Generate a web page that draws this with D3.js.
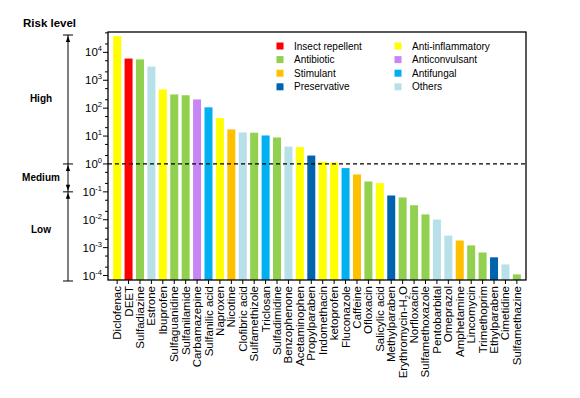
<!DOCTYPE html>
<html><head><meta charset="utf-8">
<script src="https://cdn.jsdelivr.net/npm/d3@7"></script>
<style>body{margin:0;background:#fff}svg{display:block;font-family:Arial,"Liberation Sans",sans-serif}</style>
</head><body><svg id="c" width="580" height="398"></svg>
<script>
const drugs = ["Diclofenac","DEET","Sulfadiazine","Estrone","Ibuprofen","Sulfaguanidine","Sulfanilamide","Carbamazepine","Sulfanilic acid","Naproxen","Nicotine","Clofibric acid","Sulfamethizole","Triclosan","Sulfadimidine","Benzophenone","Acetaminophen","Propylparaben","Indomethacin","ketoprofen","Fluconazole","Caffeine","Ofloxacin","Salicylic acid","Methylparaben","Erythromycin-H2O","Norfloxacin","Sulfamethoxazole","Pentobarbital","Omeprazol","Amphetamine","Lincomycin","Trimethoprim","Ethylparaben","Cimetidine","Sulfamethazine"];
const riskValues = [38000,6000,5600,3100,470,310,290,205,107,44,17.3,13.5,13.2,10.5,8.9,4.2,4.0,2.0,1.2,1.13,0.71,0.42,0.235,0.205,0.074,0.063,0.033,0.0155,0.0102,0.0027,0.0018,0.0012,0.00067,0.00045,0.00025,0.00011];
const drugClass = ["Anti-inflammatory","Insect repellent","Antibiotic","Others","Anti-inflammatory","Antibiotic","Antibiotic","Anticonvulsant","Antifungal","Anti-inflammatory","Stimulant","Others","Antibiotic","Antifungal","Antibiotic","Others","Anti-inflammatory","Preservative","Anti-inflammatory","Anti-inflammatory","Antifungal","Stimulant","Antibiotic","Anti-inflammatory","Preservative","Antibiotic","Antibiotic","Antibiotic","Others","Others","Stimulant","Antibiotic","Antibiotic","Preservative","Others","Antibiotic"];
const classNames = ["Insect repellent","Antibiotic","Stimulant","Preservative","Anti-inflammatory","Anticonvulsant","Antifungal","Others"];
const classColors = ["#ff0000","#92d050","#ffc000","#0063ae","#ffff00","#c785f5","#00b0f0","#b7e0e8"];
const yTickExps = [4,3,2,1,0,-1,-2,-3,-4];
const riskLevels = ["High","Medium","Low"];

const svg = d3.select("#c");
const L=108,R=526,T=32,B=280;
const x = d3.scaleBand().domain(drugs).range([L,R]).paddingInner(0.3).paddingOuter(0.45);
const y = d3.scaleLog().domain([Math.pow(10,-4.16),Math.pow(10,4.73)]).range([B,T]);
const color = d3.scaleOrdinal().domain(classNames).range(classColors);

svg.append("rect").attr("width",580).attr("height",398).attr("fill","#fff");

// bars
svg.append("g").selectAll("rect").data(drugs).join("rect")
  .attr("x",d=>x(d)).attr("width",x.bandwidth())
  .attr("y",(d,i)=>y(riskValues[i])).attr("height",(d,i)=>B-y(riskValues[i]))
  .attr("fill",(d,i)=>color(drugClass[i]));

// dashed line at 1
svg.append("line").attr("x1",L).attr("x2",R).attr("y1",y(1)).attr("y2",y(1))
  .attr("stroke","#000").attr("stroke-width",1.2).attr("stroke-dasharray","4,3");

// frame
svg.append("rect").attr("x",L).attr("y",T).attr("width",R-L).attr("height",B-T)
  .attr("fill","none").attr("stroke","#000").attr("stroke-width",1.3);

// y axis ticks
const minor=[];
for(let e=-5;e<=4;e++){[2,5].forEach(m=>{const v=m*Math.pow(10,e); if(v>y.domain()[0]&&v<y.domain()[1]) minor.push(v);});}
const yg = svg.append("g");
yg.selectAll("line.mj").data(yTickExps).join("line").attr("class","mj")
  .attr("x1",L-5).attr("x2",L).attr("y1",d=>y(Math.pow(10,d))).attr("y2",d=>y(Math.pow(10,d)))
  .attr("stroke","#000").attr("stroke-width",1);
yg.selectAll("line.mn").data(minor).join("line").attr("class","mn")
  .attr("x1",L-3).attr("x2",L).attr("y1",d=>y(d)).attr("y2",d=>y(d))
  .attr("stroke","#000").attr("stroke-width",1);
const yl = yg.selectAll("text").data(yTickExps).join("text")
  .attr("x",L-6).attr("y",d=>y(Math.pow(10,d))+4).attr("text-anchor","end")
  .attr("font-size",11.5).attr("fill","#000");
yl.append("tspan").text("10");
yl.append("tspan").attr("dy",-5).attr("font-size",7.5).text(d=>String(d));

// x ticks & labels
const xg = svg.append("g");
xg.selectAll("line").data(drugs).join("line")
  .attr("x1",d=>x(d)+x.bandwidth()/2).attr("x2",d=>x(d)+x.bandwidth()/2)
  .attr("y1",B).attr("y2",B+4).attr("stroke","#000").attr("stroke-width",1);
const xt = xg.selectAll("text").data(drugs).join("text")
  .attr("transform",d=>`translate(${x(d)+x.bandwidth()/2+4},${B+6}) rotate(-90)`)
  .attr("text-anchor","end").attr("font-size",11.5).attr("fill","#000");
xt.each(function(d){
  const t=d3.select(this);
  if(d==="Erythromycin-H2O"){
    t.append("tspan").text("Erythromycin-H");
    t.append("tspan").attr("font-size",7.5).attr("dy",3).text("2");
    t.append("tspan").attr("dy",-3).text("O");
  } else t.text(d);
});

// legend
const lg = svg.append("g").attr("font-size",10).attr("fill","#000");
classNames.forEach((c,i)=>{
  const col=Math.floor(i/4), row=i%4;
  const lx = col===0?280:398, ly = 46+row*13.6;
  lg.append("rect").attr("x",lx-3.5).attr("y",ly-3.5).attr("width",7).attr("height",7).attr("fill",color(c));
  lg.append("text").attr("x",lx+14).attr("y",ly+3.5).text(c);
});

// risk level annotation
const ax=68;
const ann = svg.append("g").attr("stroke","#000").attr("stroke-width",1);
svg.append("text").attr("x",23).attr("y",27).attr("font-size",11.5).attr("font-weight","bold").text("Risk level");
const yTop=35, y1=y(1), y01=y(0.1), yBot=B+1;
function cap(yy){ann.append("line").attr("x1",ax-5).attr("x2",ax+5).attr("y1",yy).attr("y2",yy);}
function arrow(yy,dir){
  svg.append("path").attr("d",`M${ax},${yy} L${ax-2.2},${yy-dir*6} L${ax+2.2},${yy-dir*6} Z`).attr("fill","#000");
}
[yTop,y1,y01,yBot].forEach(cap);
ann.append("line").attr("x1",ax).attr("x2",ax).attr("y1",yTop).attr("y2",yBot);
arrow(yTop+1,-1); arrow(y1+1,-1); arrow(y01-1,1); arrow(y01+1,-1);
const levelY=[(yTop+y1)/2+3,(y1+y01)/2+3,(y01+yBot)/2-3];
svg.append("g").selectAll("text").data(riskLevels).join("text")
  .attr("x",41).attr("y",(d,i)=>levelY[i]).attr("text-anchor","middle")
  .attr("font-size",10).attr("font-weight","bold").text(d=>d);
</script></body></html>
